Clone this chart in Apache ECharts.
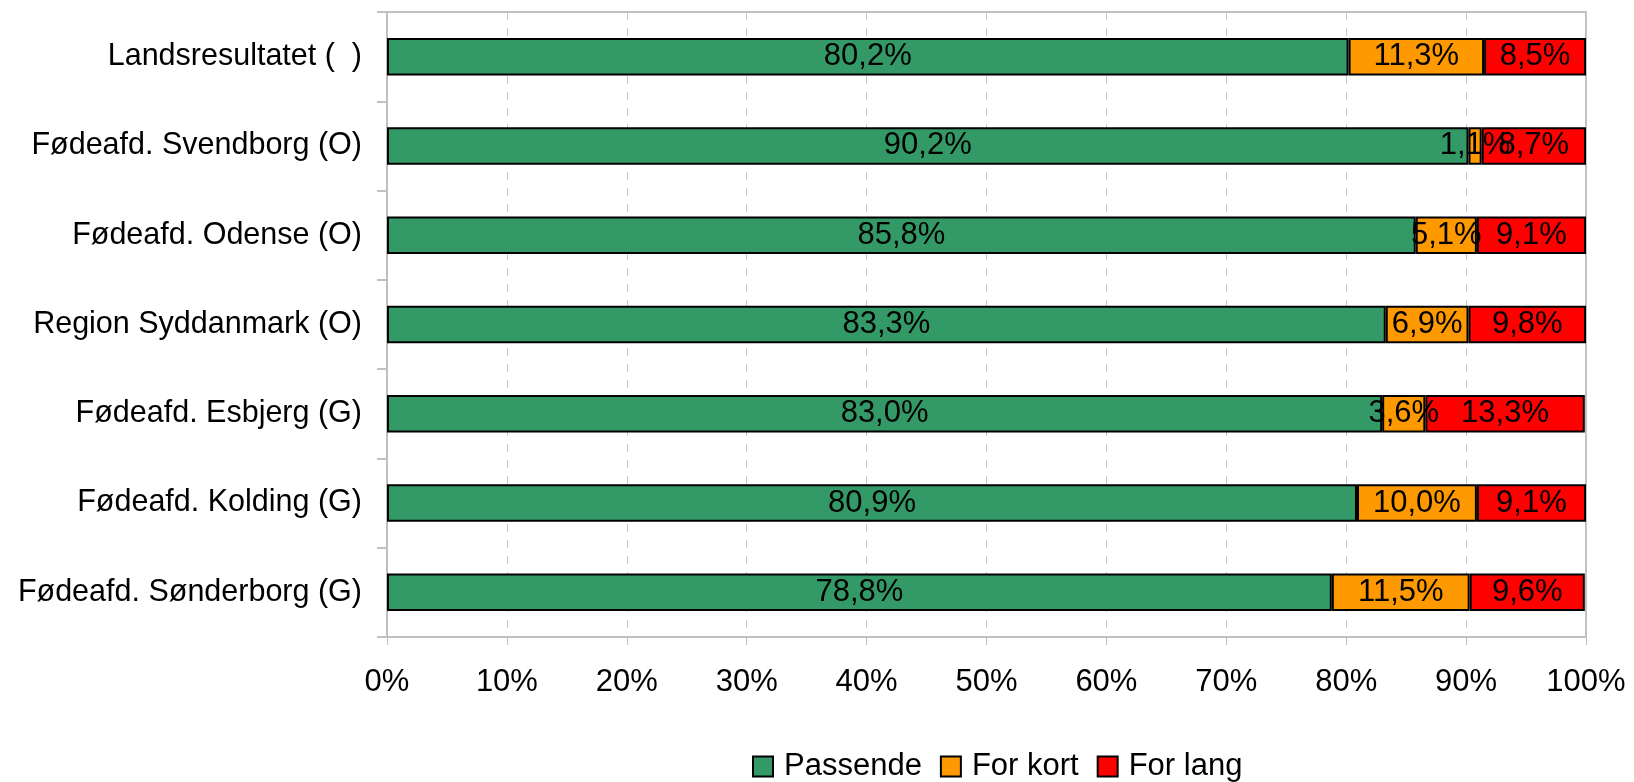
<!DOCTYPE html>
<html><head><meta charset="utf-8">
<script src="https://cdn.jsdelivr.net/npm/echarts@6/dist/echarts.min.js"></script>
<style>html,body{margin:0;padding:0;background:#fff}#c{width:1634px;height:782px}</style>
</head><body><div id="c"></div>
<script>
var categories = ["Landsresultatet (  )","Fødeafd. Svendborg (O)","Fødeafd. Odense (O)","Region Syddanmark (O)","Fødeafd. Esbjerg (G)","Fødeafd. Kolding (G)","Fødeafd. Sønderborg (G)"];
var passende = [80.2, 90.2, 85.8, 83.3, 83.0, 80.9, 78.8];
var forKort = [11.3, 1.1, 5.1, 6.9, 3.6, 10.0, 11.5];
var forLang = [8.5, 8.7, 9.1, 9.8, 13.3, 9.1, 9.6];
var seriesNames = ["Passende","For kort","For lang"];
var colors = ["#339966","#FF9900","#FF0000"];

var FONT = "Liberation Sans, Arial, sans-serif";
var chart = echarts.init(document.getElementById('c'));
function fmt(v){ return v.toFixed(1).replace('.', ',') + '%'; }
function mk(name, data, color){
  return {
    name: name, type: 'bar', stack: 'a', data: data, barWidth: '42%',
    itemStyle: {color: color, borderColor: '#000', borderWidth: 2},
    label: {show: true, position: 'inside', color: '#000', fontSize: 31, fontFamily: FONT,
      formatter: function(p){ return fmt(p.value); }},
    emphasis: {disabled: true}
  };
}
chart.setOption({
  animation: false,
  textStyle: {fontFamily: FONT},
  grid: {left: 387, right: 48, top: 12, bottom: 145, show: true, borderColor: '#c0c0c0', borderWidth: 2, containLabel: false},
  legend: {top: 746, left: 747, itemWidth: 20, itemHeight: 20, itemGap: 18,
    textStyle: {fontSize: 31, fontFamily: FONT, color: '#000', padding: [0,0,0,6]},
    data: seriesNames.map(function(n,i){ return {name: n, icon: 'rect', itemStyle: {color: colors[i], borderColor: '#000', borderWidth: 2}}; })
  },
  xAxis: {type: 'value', min: 0, max: 100, interval: 10,
    axisLabel: {formatter: '{value}%', fontSize: 31, color: '#000', margin: 30, fontFamily: FONT},
    axisLine: {show: true, lineStyle: {color: '#c0c0c0', width: 2}},
    axisTick: {show: true, length: 10, lineStyle: {color: '#c0c0c0', type: [8,6]}},
    splitLine: {show: true, lineStyle: {color: '#c8c8c8', type: [8,8], width: 1}}
  },
  yAxis: {type: 'category', inverse: true, data: categories,
    axisLabel: {fontSize: 30.5, color: '#000', margin: 25, fontFamily: FONT},
    axisLine: {show: true, lineStyle: {color: '#c0c0c0', width: 2}},
    axisTick: {show: true, length: 10, lineStyle: {color: '#c0c0c0', width: 2}},
    splitLine: {show: false}
  },
  series: [mk(seriesNames[0], passende, colors[0]), mk(seriesNames[1], forKort, colors[1]), mk(seriesNames[2], forLang, colors[2])]
});
</script></body></html>
